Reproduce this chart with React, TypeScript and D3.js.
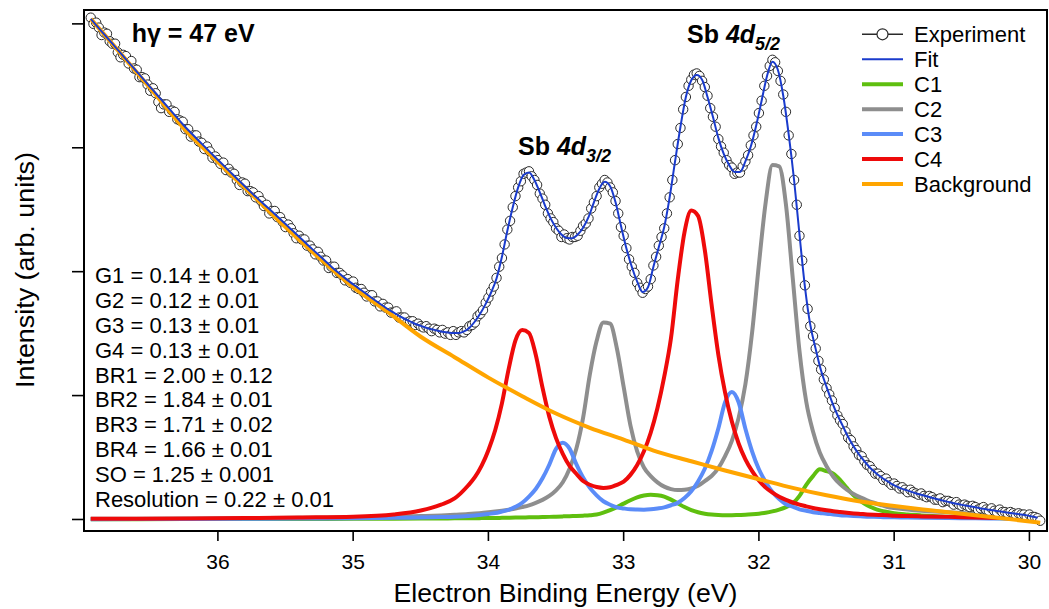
import React from "react";
import * as d3 from "d3";

// ---------- data ----------
const EXP_START = 36.94; // eV, first experimental point
const EXP_STEP = 0.02; // eV spacing of experimental points
const expIntensity = [
  4.05, 4.00, 4.01, 3.97, 3.91, 3.93, 3.92, 3.86, 3.84, 3.84,
  3.77, 3.73, 3.75, 3.74, 3.68, 3.70, 3.64, 3.63, 3.57, 3.57,
  3.56, 3.51, 3.46, 3.48, 3.44, 3.37, 3.32, 3.35, 3.35, 3.29,
  3.30, 3.29, 3.23, 3.22, 3.21, 3.15, 3.15, 3.09, 3.10, 3.10,
  3.05, 3.04, 2.99, 3.01, 2.97, 2.92, 2.93, 2.90, 2.87, 2.88,
  2.82, 2.83, 2.80, 2.79, 2.74, 2.70, 2.72, 2.71, 2.65, 2.65,
  2.64, 2.60, 2.61, 2.57, 2.53, 2.54, 2.47, 2.49, 2.49, 2.44,
  2.44, 2.40, 2.36, 2.38, 2.35, 2.31, 2.27, 2.29, 2.26, 2.26,
  2.21, 2.21, 2.18, 2.14, 2.16, 2.12, 2.09, 2.09, 2.03, 2.04,
  2.04, 1.99, 1.99, 1.97, 1.93, 1.94, 1.91, 1.92, 1.87, 1.86,
  1.86, 1.83, 1.80, 1.81, 1.81, 1.76, 1.76, 1.72, 1.74, 1.71,
  1.71, 1.67, 1.67, 1.68, 1.63, 1.63, 1.63, 1.59, 1.60, 1.60,
  1.57, 1.58, 1.56, 1.55, 1.56, 1.54, 1.52, 1.54, 1.53, 1.51,
  1.53, 1.50, 1.51, 1.49, 1.52, 1.49, 1.51, 1.52, 1.51, 1.53,
  1.56, 1.57, 1.59, 1.64, 1.66, 1.69, 1.75, 1.79, 1.84, 1.88,
  1.95, 2.04, 2.11, 2.22, 2.34, 2.41, 2.52, 2.61, 2.68, 2.73,
  2.79, 2.80, 2.81, 2.77, 2.74, 2.70, 2.63, 2.59, 2.54, 2.47,
  2.43, 2.40, 2.35, 2.33, 2.28, 2.30, 2.27, 2.26, 2.28, 2.28,
  2.29, 2.33, 2.37, 2.39, 2.43, 2.51, 2.56, 2.61, 2.68, 2.71,
  2.74, 2.72, 2.68, 2.64, 2.57, 2.47, 2.36, 2.29, 2.19, 2.10,
  2.04, 1.99, 1.91, 1.87, 1.83, 1.86, 1.88, 1.94, 2.05, 2.12,
  2.21, 2.28, 2.35, 2.47, 2.60, 2.74, 2.90, 3.03, 3.16, 3.31,
  3.41, 3.50, 3.55, 3.59, 3.60, 3.58, 3.54, 3.49, 3.42, 3.32,
  3.25, 3.17, 3.07, 3.01, 2.96, 2.90, 2.86, 2.84, 2.79, 2.80,
  2.80, 2.85, 2.89, 2.94, 3.02, 3.10, 3.17, 3.28, 3.38, 3.50,
  3.58, 3.66, 3.71, 3.69, 3.62, 3.54, 3.43, 3.29, 3.10, 2.95,
  2.74, 2.54, 2.29, 2.09, 1.89, 1.70, 1.56, 1.48, 1.38, 1.28,
  1.21, 1.13, 1.06, 1.01, 0.96, 0.90, 0.84, 0.80, 0.77, 0.71,
  0.66, 0.64, 0.59, 0.56, 0.52, 0.51, 0.47, 0.44, 0.43, 0.40,
  0.37, 0.37, 0.35, 0.32, 0.33, 0.30, 0.28, 0.29, 0.27, 0.25,
  0.26, 0.24, 0.22, 0.24, 0.22, 0.21, 0.20, 0.21, 0.19, 0.18,
  0.19, 0.18, 0.16, 0.16, 0.17, 0.14, 0.15, 0.15, 0.14, 0.12,
  0.14, 0.12, 0.11, 0.12, 0.11, 0.10, 0.11, 0.10, 0.08, 0.09,
  0.10, 0.08, 0.07, 0.09, 0.07, 0.06, 0.08, 0.06, 0.06, 0.05,
  0.06, 0.05, 0.04, 0.05, 0.04, 0.04, 0.02, 0.04, 0.02, 0.02,
  0.01, -0.01,
];

const FIT_START = 36.94;
const FIT_STEP = 0.04;
const fitIntensity = [
  4.040, 3.990, 3.940, 3.890, 3.840,
  3.790, 3.740, 3.690, 3.640, 3.590,
  3.540, 3.490, 3.440, 3.390, 3.340,
  3.290, 3.240, 3.190, 3.143, 3.099,
  3.055, 3.011, 2.967, 2.924, 2.881,
  2.838, 2.795, 2.752, 2.709, 2.667,
  2.625, 2.585, 2.545, 2.505, 2.465,
  2.425, 2.384, 2.343, 2.302, 2.261,
  2.220, 2.180, 2.140, 2.100, 2.060,
  2.020, 1.984, 1.948, 1.914, 1.882,
  1.850, 1.818, 1.786, 1.755, 1.725,
  1.695, 1.669, 1.643, 1.620, 1.599,
  1.578, 1.563, 1.548, 1.535, 1.525,
  1.515, 1.510, 1.505, 1.505, 1.518,
  1.548, 1.598, 1.662, 1.740, 1.832,
  1.945, 2.120, 2.330, 2.520, 2.680,
  2.780, 2.800, 2.740, 2.640, 2.530,
  2.430, 2.355, 2.300, 2.272, 2.270,
  2.300, 2.355, 2.440, 2.560, 2.670,
  2.725, 2.690, 2.560, 2.370, 2.190,
  2.040, 1.920, 1.836, 1.875, 2.040,
  2.200, 2.360, 2.600, 2.890, 3.170,
  3.410, 3.545, 3.588, 3.550, 3.410,
  3.250, 3.080, 2.950, 2.860, 2.805,
  2.805, 2.890, 3.010, 3.180, 3.380,
  3.580, 3.695, 3.630, 3.420, 3.110,
  2.740, 2.300, 1.880, 1.570, 1.375,
  1.200, 1.070, 0.950, 0.845, 0.755,
  0.665, 0.590, 0.525, 0.470, 0.420,
  0.380, 0.345, 0.315, 0.288, 0.265,
  0.247, 0.233, 0.219, 0.205, 0.193,
  0.181, 0.169, 0.157, 0.147, 0.137,
  0.127, 0.118, 0.110, 0.102, 0.094,
  0.086, 0.079, 0.072, 0.066, 0.059,
  0.053, 0.047, 0.040, 0.033, 0.024,
  0.014,
];

const compEnergy = [
  36.94, 36.6, 36.2, 35.8, 35.4, 35.0, 34.7, 34.5, 34.35, 34.25, 34.15,
  34.10, 34.05, 34.00, 33.95, 33.90, 33.85, 33.80, 33.75, 33.70, 33.65,
  33.60, 33.55, 33.50, 33.45, 33.40, 33.35, 33.30, 33.25, 33.20, 33.15,
  33.10, 33.05, 33.00, 32.95, 32.90, 32.85, 32.80, 32.75, 32.70, 32.65,
  32.60, 32.55, 32.50, 32.45, 32.40, 32.35, 32.30, 32.25, 32.20, 32.15,
  32.10, 32.05, 32.00, 31.95, 31.90, 31.85, 31.80, 31.75, 31.70, 31.65,
  31.60, 31.55, 31.50, 31.45, 31.40, 31.35, 31.30, 31.25, 31.20, 31.15,
  31.10, 31.05, 31.00, 30.9, 30.8, 30.6, 30.4, 30.2, 30.0, 29.92,
];

const c1Values = [
  0.002, 0.002, 0.003, 0.003, 0.004, 0.005, 0.006, 0.007, 0.008, 0.009, 0.010,
  0.010, 0.011, 0.012, 0.012, 0.013, 0.014, 0.015, 0.016, 0.017, 0.018,
  0.020, 0.021, 0.023, 0.025, 0.027, 0.029, 0.031, 0.034, 0.040, 0.055,
  0.075, 0.100, 0.128, 0.155, 0.178, 0.193, 0.199, 0.196, 0.185, 0.160,
  0.130, 0.100, 0.075, 0.058, 0.047, 0.040, 0.036, 0.034, 0.034, 0.036,
  0.038, 0.042, 0.047, 0.054, 0.065, 0.080, 0.100, 0.130, 0.190, 0.280,
  0.350, 0.405, 0.390, 0.370, 0.320, 0.255, 0.195, 0.150, 0.115, 0.090,
  0.072, 0.060, 0.050, 0.040, 0.033, 0.023, 0.016, 0.010, 0.006, 0.005,
];

const c2Values = [
  0.005, 0.006, 0.008, 0.010, 0.013, 0.018, 0.023, 0.028, 0.033, 0.038, 0.044,
  0.048, 0.053, 0.058, 0.064, 0.071, 0.079, 0.088, 0.100, 0.114, 0.134,
  0.158, 0.190, 0.235, 0.300, 0.410, 0.570, 0.820, 1.170, 1.440, 1.590,
  1.580, 1.380, 1.070, 0.760, 0.550, 0.420, 0.350, 0.300, 0.265, 0.245,
  0.237, 0.240, 0.250, 0.272, 0.310, 0.351, 0.415, 0.511, 0.635, 0.820,
  1.091, 1.513, 2.059, 2.559, 2.860, 2.850, 2.540, 1.950, 1.360, 0.950,
  0.710, 0.540, 0.430, 0.345, 0.285, 0.240, 0.205, 0.178, 0.155, 0.135,
  0.117, 0.101, 0.093, 0.080, 0.070, 0.058, 0.046, 0.035, 0.024, 0.020,
];

const c3Values = [
  0.002, 0.003, 0.004, 0.005, 0.007, 0.010, 0.013, 0.016, 0.020, 0.023, 0.029,
  0.033, 0.038, 0.045, 0.052, 0.064, 0.077, 0.102, 0.135, 0.185, 0.246,
  0.332, 0.442, 0.570, 0.620, 0.572, 0.446, 0.338, 0.255, 0.195, 0.147,
  0.119, 0.098, 0.089, 0.082, 0.080, 0.079, 0.082, 0.089, 0.098, 0.115,
  0.134, 0.173, 0.227, 0.307, 0.409, 0.551, 0.734, 0.947, 1.029, 0.946,
  0.732, 0.548, 0.405, 0.303, 0.221, 0.165, 0.123, 0.103, 0.082, 0.071,
  0.059, 0.053, 0.046, 0.041, 0.035, 0.032, 0.029, 0.026, 0.023, 0.021,
  0.019, 0.018, 0.017, 0.015, 0.013, 0.011, 0.009, 0.007, 0.005, 0.004,
];

const c4Values = [
  0.005, 0.006, 0.008, 0.011, 0.016, 0.022, 0.040, 0.072, 0.120, 0.170, 0.274,
  0.341, 0.434, 0.559, 0.720, 0.937, 1.216, 1.446, 1.530, 1.506, 1.329,
  1.064, 0.830, 0.657, 0.530, 0.432, 0.369, 0.310, 0.280, 0.262, 0.255,
  0.260, 0.280, 0.305, 0.360, 0.440, 0.550, 0.700, 0.900, 1.153, 1.464,
  1.936, 2.320, 2.493, 2.450, 2.174, 1.735, 1.330, 1.024, 0.790, 0.613,
  0.485, 0.390, 0.314, 0.257, 0.216, 0.183, 0.158, 0.137, 0.120, 0.106,
  0.093, 0.083, 0.074, 0.066, 0.060, 0.054, 0.049, 0.045, 0.041, 0.038,
  0.036, 0.034, 0.030, 0.028, 0.025, 0.021, 0.016, 0.012, 0.006, 0.003,
];

const bgEnergy = [
  36.94, 36.75, 36.5, 36.25, 36.0, 35.75, 35.5, 35.25, 35.0, 34.75, 34.5,
  34.25, 34.0, 33.75, 33.5, 33.25, 33.0, 32.75, 32.5, 32.25, 32.0, 31.75,
  31.5, 31.25, 31.0, 30.75, 30.5, 30.25, 29.92,
];
const bgValues = [
  4.04, 3.80, 3.48, 3.155, 2.885, 2.625, 2.36, 2.11, 1.875, 1.68, 1.475,
  1.31, 1.145, 0.995, 0.855, 0.74, 0.645, 0.545, 0.47, 0.395, 0.325, 0.255,
  0.195, 0.145, 0.108, 0.076, 0.046, 0.016, -0.026,
];

const xTicks = [36, 35, 34, 33, 32, 31, 30];
const yTicks = [0, 1, 2, 3, 4];

const paramLines = [
  "G1 = 0.14 \u00b1 0.01",
  "G2 = 0.12 \u00b1 0.01",
  "G3 = 0.13 \u00b1 0.01",
  "G4 = 0.13 \u00b1 0.01",
  "BR1 = 2.00 \u00b1 0.12",
  "BR2 = 1.84 \u00b1 0.01",
  "BR3 = 1.71 \u00b1 0.02",
  "BR4 = 1.66 \u00b1 0.01",
  "SO = 1.25 \u00b1 0.001",
  "Resolution = 0.22 \u00b1 0.01",
];

const COLORS = {
  fit: "#1a3bcc",
  c1: "#5fbf0f",
  c2: "#8e8e8e",
  c3: "#5b8cf8",
  c4: "#ee0a0a",
  bg: "#ffa500",
  exp: "#2a2a2a",
};

const legendItems = [
  { label: "Experiment", key: "exp" },
  { label: "Fit", key: "fit" },
  { label: "C1", key: "c1" },
  { label: "C2", key: "c2" },
  { label: "C3", key: "c3" },
  { label: "C4", key: "c4" },
  { label: "Background", key: "bg" },
];

// ---------- layout ----------
const W = 1049;
const H = 609;
const L = 84, R = 1047, T = 10, B = 531;
const FONT = "'Liberation Sans', Arial, Helvetica, sans-serif";

export default function App() {
  const x = d3.scaleLinear().domain([36.99, 29.87]).range([L, R]);
  const y = d3.scaleLinear().domain([-0.093, 4.112]).range([B, T]);

  const expPts = expIntensity.map((v, i) => [EXP_START - i * EXP_STEP, v] as [number, number]);
  const fitPts = fitIntensity.map((v, i) => [FIT_START - i * FIT_STEP, v] as [number, number]);
  const mk = (vals: number[]) => compEnergy.map((e, i) => [e, vals[i]] as [number, number]);
  const bgPts = bgEnergy.map((e, i) => [e, bgValues[i]] as [number, number]);

  const line = d3
    .line<[number, number]>()
    .x((d) => x(d[0]))
    .y((d) => y(d[1]))
    .curve(d3.curveMonotoneX);

  const comps = [
    { key: "c1", pts: mk(c1Values) },
    { key: "c2", pts: mk(c2Values) },
    { key: "c3", pts: mk(c3Values) },
    { key: "c4", pts: mk(c4Values) },
  ];

  const legendX0 = 862, legendX1 = 903, legendTextX = 914, legendY0 = 34.3, legendDY = 24.95;

  return (
    <svg
      width={W}
      height={H}
      style={{ position: "absolute", left: 0, top: 0, background: "#fff" }}
      fontFamily={FONT}
    >
      <defs>
        <clipPath id="plotClip">
          <rect x={L} y={T} width={R - L} height={B - T} />
        </clipPath>
      </defs>
      <rect x={0} y={0} width={W} height={H} fill="#fff" />

      <g clipPath="url(#plotClip)">
        {comps.map((c) => (
          <path
            key={c.key}
            d={line(c.pts) || ""}
            fill="none"
            stroke={(COLORS as any)[c.key]}
            strokeWidth={4}
            strokeLinejoin="round"
          />
        ))}
        {expPts.map((p, i) => (
          <circle
            key={i}
            cx={x(p[0])}
            cy={y(p[1])}
            r={4.7}
            fill="#fff"
            stroke={COLORS.exp}
            strokeWidth={1}
          />
        ))}
        <path d={line(bgPts) || ""} fill="none" stroke={COLORS.bg} strokeWidth={4} />
        <path d={line(fitPts) || ""} fill="none" stroke={COLORS.fit} strokeWidth={2} />
      </g>

      {/* frame */}
      <rect x={L} y={T} width={R - L} height={B - T} fill="none" stroke="#000" strokeWidth={2} />

      {/* y ticks */}
      {yTicks.map((t) => (
        <line key={"y" + t} x1={L - 12} x2={L} y1={y(t)} y2={y(t)} stroke="#000" strokeWidth={1.6} />
      ))}
      {/* x ticks */}
      {xTicks.map((t) => (
        <g key={"x" + t}>
          <line x1={x(t)} x2={x(t)} y1={B} y2={B + 10} stroke="#000" strokeWidth={1.6} />
          <text x={x(t)} y={568.5} textAnchor="middle" fontSize={21} fill="#000">
            {t}
          </text>
        </g>
      ))}

      {/* axis titles */}
      <text
        x={(L + R) / 2}
        y={602}
        textAnchor="middle"
        fontSize={26.5}
        fill="#000"
        textLength={344}
        lengthAdjust="spacingAndGlyphs"
      >
        Electron Binding Energy (eV)
      </text>
      <text
        transform={`translate(34,270) rotate(-90)`}
        textAnchor="middle"
        fontSize={26.5}
        fill="#000"
        textLength={236}
        lengthAdjust="spacingAndGlyphs"
      >
        Intensity (arb. units)
      </text>

      {/* annotations */}
      <text x={131.7} y={41.7} fontSize={25} fontWeight="bold" fill="#000">
        h{"\u03b3"} = 47 eV
      </text>
      <text x={518} y={155} fontSize={25} fontWeight="bold" fill="#000">
        Sb <tspan fontStyle="italic">4d</tspan>
        <tspan fontStyle="italic" fontSize={18} dy={7}>3/2</tspan>
      </text>
      <text x={687} y={43} fontSize={25} fontWeight="bold" fill="#000">
        Sb <tspan fontStyle="italic">4d</tspan>
        <tspan fontStyle="italic" fontSize={18} dy={7}>5/2</tspan>
      </text>

      {paramLines.map((s, i) => (
        <text key={s} x={95} y={283.3 + i * 24.8} fontSize={22} fill="#000">
          {s}
        </text>
      ))}

      {/* legend */}
      {legendItems.map((it, i) => {
        const ly = legendY0 + i * legendDY;
        const isExp = it.key === "exp";
        const isFit = it.key === "fit";
        return (
          <g key={it.key}>
            <line
              x1={legendX0}
              x2={legendX1}
              y1={ly}
              y2={ly}
              stroke={(COLORS as any)[it.key]}
              strokeWidth={isExp ? 1.5 : isFit ? 2 : 4}
            />
            {isExp && (
              <circle cx={(legendX0 + legendX1) / 2} cy={ly} r={5.5} fill="#fff" stroke={COLORS.exp} strokeWidth={1.2} />
            )}
            <text x={legendTextX} y={ly + 7.7} fontSize={22} fill="#000">
              {it.label}
            </text>
          </g>
        );
      })}
    </svg>
  );
}
